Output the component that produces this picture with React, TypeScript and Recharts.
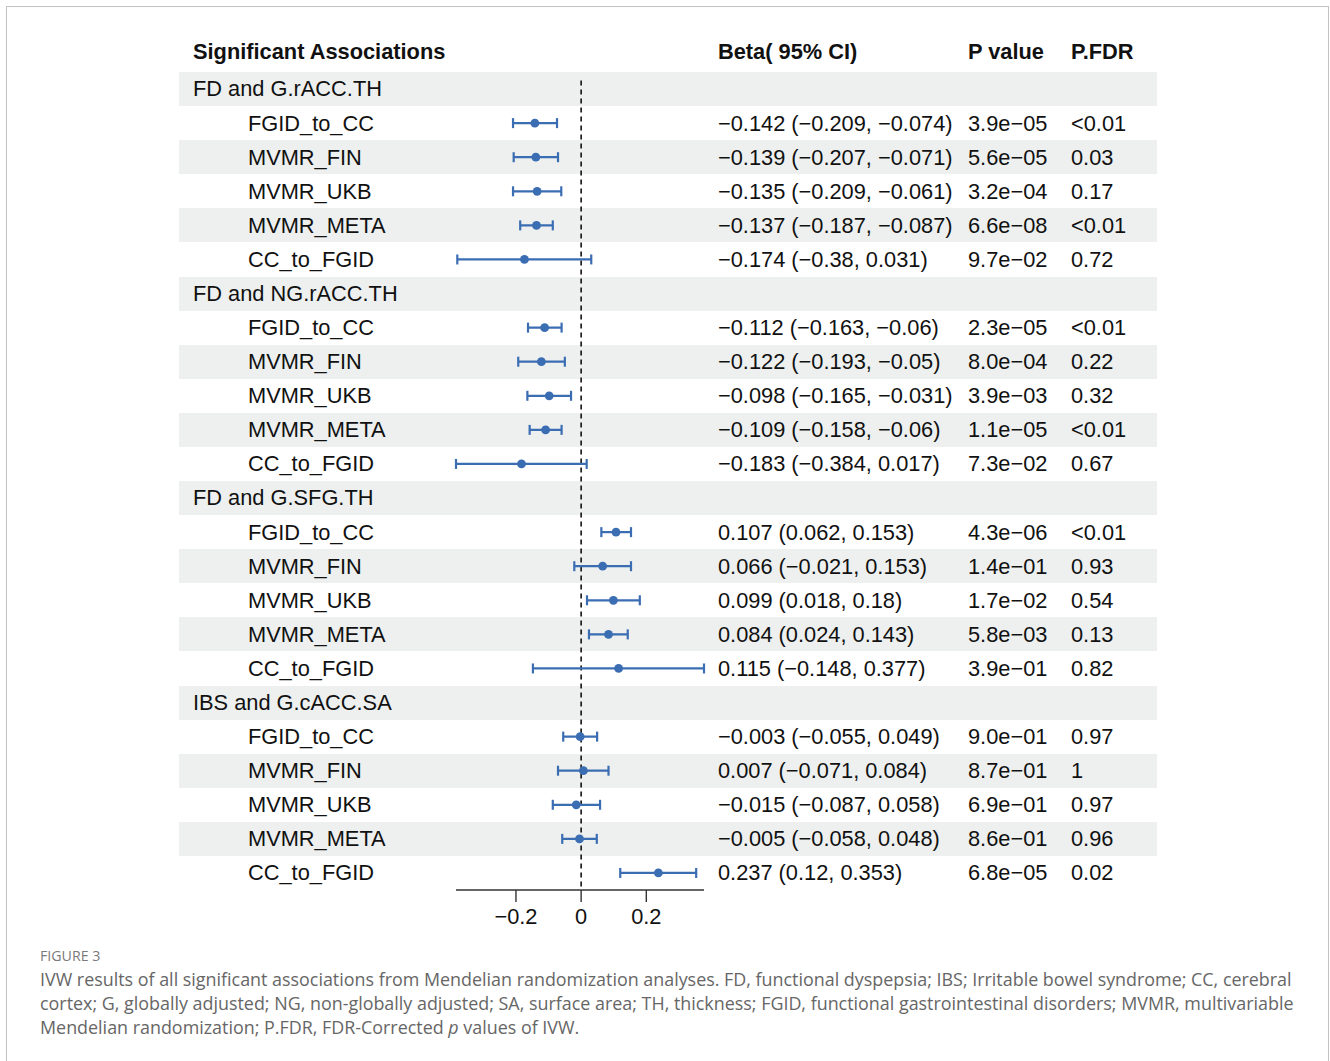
import React from "react"
import { ComposedChart, Scatter, ErrorBar, XAxis, YAxis, ReferenceLine } from "recharts"

// values
const groups = ["FD and G.rACC.TH", "FD and NG.rACC.TH", "FD and G.SFG.TH", "IBS and G.cACC.SA"]
const methods = ["FGID_to_CC", "MVMR_FIN", "MVMR_UKB", "MVMR_META", "CC_to_FGID"]

const beta = [
  [-0.142, -0.139, -0.135, -0.137, -0.174],
  [-0.112, -0.122, -0.098, -0.109, -0.183],
  [0.107, 0.066, 0.099, 0.084, 0.115],
  [-0.003, 0.007, -0.015, -0.005, 0.237],
]
const lower = [
  [-0.209, -0.207, -0.209, -0.187, -0.38],
  [-0.163, -0.193, -0.165, -0.158, -0.384],
  [0.062, -0.021, 0.018, 0.024, -0.148],
  [-0.055, -0.071, -0.087, -0.058, 0.12],
]
const upper = [
  [-0.074, -0.071, -0.061, -0.087, 0.031],
  [-0.06, -0.05, -0.031, -0.06, 0.017],
  [0.153, 0.153, 0.18, 0.143, 0.377],
  [0.049, 0.084, 0.058, 0.048, 0.353],
]
const pValues = [
  ["3.9e−05", "5.6e−05", "3.2e−04", "6.6e−08", "9.7e−02"],
  ["2.3e−05", "8.0e−04", "3.9e−03", "1.1e−05", "7.3e−02"],
  ["4.3e−06", "1.4e−01", "1.7e−02", "5.8e−03", "3.9e−01"],
  ["9.0e−01", "8.7e−01", "6.9e−01", "8.6e−01", "6.8e−05"],
]
const pFdr = [
  ["<0.01", "0.03", "0.17", "<0.01", "0.72"],
  ["<0.01", "0.22", "0.32", "<0.01", "0.67"],
  ["<0.01", "0.93", "0.54", "0.13", "0.82"],
  ["0.97", "1", "0.97", "0.96", "0.02"],
]
const xTicks = [-0.2, 0, 0.2]

const FONT = '"Liberation Sans", Arial, Helvetica, sans-serif'
const BLUE = "#3b6db3"
const BAND = "#edf0ef"

// layout
const W = 1330
const PLOT_LEFT = 456
const PLOT_RIGHT = 704
const PLOT_TOP = 72
const PLOT_BOTTOM = 890
const AXIS_H = 48
const COL_GROUP = 193
const COL_METHOD = 248
const COL_BETA = 718
const COL_P = 968
const COL_FDR = 1071

const fmt = (v: number) => String(v).replace("-", "−")

type Row = {
  label: string
  group: boolean
  beta?: number
  lo?: number
  hi?: number
  p?: string
  fdr?: string
}

const rows: Row[] = []
groups.forEach((g, gi) => {
  rows.push({ label: g, group: true })
  methods.forEach((m, mi) => {
    rows.push({
      label: m,
      group: false,
      beta: beta[gi][mi],
      lo: lower[gi][mi],
      hi: upper[gi][mi],
      p: pValues[gi][mi],
      fdr: pFdr[gi][mi],
    })
  })
})

const points = rows
  .map((r, i) => ({ r, i }))
  .filter(({ r }) => !r.group)
  .map(({ r, i }) => ({ x: r.beta!, y: i, err: [r.beta! - r.lo!, r.hi! - r.beta!] }))

const xMin = Math.min(...lower.flat())
const xMax = Math.max(...upper.flat())
const rowH = (PLOT_BOTTOM - PLOT_TOP) / rows.length
const shaded = (i: number) => i % 6 === 0 || i % 6 === 2 || i % 6 === 4

const txt = { fontFamily: FONT, fontSize: 21.8, fill: "#111" }

function RowTick(props: any) {
  const { y, payload } = props
  const idx = Math.round(Number(payload?.value))
  const row = rows[idx]
  if (!row) return <g />
  return (
    <g>
      {idx === 0 && (
        <g style={{ fontWeight: 700 }}>
          <text x={COL_GROUP} y={y - 37} dy="0.34em" {...txt}>Significant Associations</text>
          <text x={COL_BETA} y={y - 37} dy="0.34em" {...txt}>Beta( 95% CI)</text>
          <text x={COL_P} y={y - 37} dy="0.34em" {...txt}>P value</text>
          <text x={COL_FDR} y={y - 37} dy="0.34em" {...txt}>P.FDR</text>
        </g>
      )}
      {row.group ? (
        <text x={COL_GROUP} y={y} dy="0.34em" {...txt}>{row.label}</text>
      ) : (
        <>
          <text x={COL_METHOD} y={y} dy="0.34em" {...txt}>{row.label}</text>
          <text x={COL_BETA} y={y} dy="0.34em" {...txt}>
            {`${fmt(row.beta!)} (${fmt(row.lo!)}, ${fmt(row.hi!)})`}
          </text>
          <text x={COL_P} y={y} dy="0.34em" {...txt}>{row.p}</text>
          <text x={COL_FDR} y={y} dy="0.34em" {...txt}>{row.fdr}</text>
        </>
      )}
    </g>
  )
}

export default function App() {
  return (
    <div style={{ position: "absolute", left: 0, top: 0, width: W, height: 1061, overflow: "hidden", background: "#fff" }}>
      <div
        style={{
          position: "absolute",
          left: 6,
          top: 6,
          width: 1321,
          height: 1060,
          border: "1px solid #c2c2c2",
          borderBottom: "none",
        }}
      />
      {rows.map((_, i) =>
        shaded(i) ? (
          <div
            key={i}
            style={{
              position: "absolute",
              left: 179,
              width: 978,
              top: PLOT_TOP + i * rowH,
              height: rowH,
              background: BAND,
            }}
          />
        ) : null
      )}
      <div style={{ position: "absolute", left: 0, top: 0 }}>
        <ComposedChart
          width={W}
          height={PLOT_BOTTOM + AXIS_H}
          data={points}
          margin={{ top: PLOT_TOP, right: W - PLOT_RIGHT, bottom: 0, left: PLOT_LEFT - 10 }}
        >
          <YAxis
            type="number"
            dataKey="y"
            domain={[-0.5, rows.length - 0.5]}
            reversed
            ticks={rows.map((_, i) => i)}
            interval={0}
            width={10}
            axisLine={false}
            tickLine={false}
            tick={<RowTick />}
          />
          <XAxis
            type="number"
            dataKey="x"
            domain={[xMin, xMax]}
            allowDataOverflow
            ticks={xTicks}
            tickFormatter={(v: number) => (v === 0 ? "0" : fmt(v))}
            height={AXIS_H}
            tickSize={12}
            tickMargin={7}
            stroke="#333"
            strokeWidth={1.4}
            tick={{ fontFamily: FONT, fontSize: 21.8, fill: "#111" }}
          />
          <ReferenceLine
            segment={[
              { x: 0, y: -0.25 },
              { x: 0, y: rows.length - 0.55 },
            ]}
            stroke="#111"
            strokeWidth={1.6}
            strokeDasharray="5 4"
          />
          <Scatter
            data={points}
            dataKey="x"
            isAnimationActive={false}
            shape={(p: any) => <circle cx={p.cx} cy={p.cy} r={4.4} fill={BLUE} />}
          >
            <ErrorBar dataKey="err" direction="x" width={5} stroke={BLUE} strokeWidth={2.2} isAnimationActive={false} />
          </Scatter>
        </ComposedChart>
      </div>
      <div
        style={{
          position: "absolute",
          left: 40,
          top: 946,
          fontFamily: '"Open Sans", sans-serif',
          fontSize: 14.2,
          color: "#7a7a7a",
        }}
      >
        FIGURE 3
      </div>
      <div
        style={{
          position: "absolute",
          left: 40,
          top: 967,
          fontFamily: '"Open Sans", sans-serif',
          fontSize: 17.9,
          lineHeight: "24px",
          color: "#666",
          whiteSpace: "nowrap",
        }}
      >
        IVW results of all significant associations from Mendelian randomization analyses. FD, functional dyspepsia; IBS; Irritable bowel syndrome; CC, cerebral
        <br />
        cortex; G, globally adjusted; NG, non-globally adjusted; SA, surface area; TH, thickness; FGID, functional gastrointestinal disorders; MVMR, multivariable
        <br />
        Mendelian randomization; P.FDR, FDR-Corrected <i>p</i> values of IVW.
      </div>
    </div>
  )
}
